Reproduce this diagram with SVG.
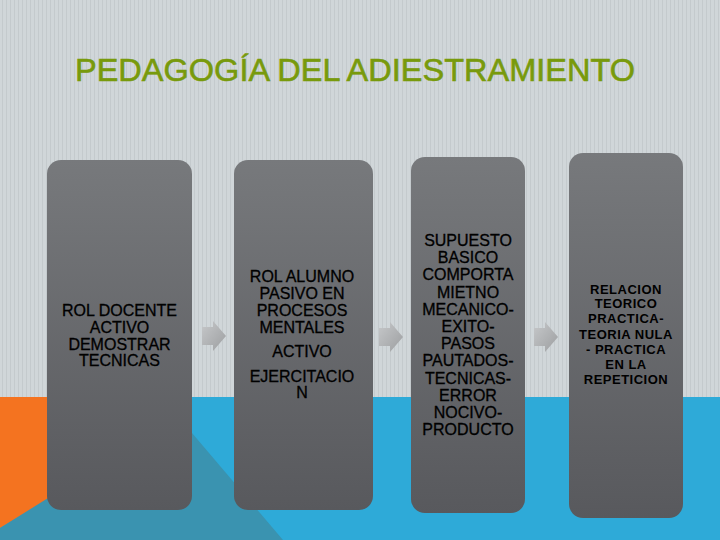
<svg xmlns="http://www.w3.org/2000/svg" width="720" height="540" viewBox="0 0 720 540">
<defs>
<pattern id="stripes" width="4" height="10" patternUnits="userSpaceOnUse">
<rect width="4" height="10" fill="#d0d6d9"/>
<rect x="2" width="1" height="10" fill="#c4cacd"/>
</pattern>
<linearGradient id="boxg" x1="0" y1="0" x2="0" y2="1">
<stop offset="0" stop-color="#77797c"/>
<stop offset="1" stop-color="#58595d"/>
</linearGradient>
<linearGradient id="arrg" x1="0" y1="0" x2="1" y2="1">
<stop offset="0" stop-color="#c6c8ca"/>
<stop offset="1" stop-color="#9c9ea0"/>
</linearGradient>
<path id="arrow" d="M0,6 H11 V0 L24,15 L11,30 V24 H0 Z" fill="url(#arrg)"/>
</defs>
<style>
.box{fill:url(#boxg);}
.t{font-family:"Liberation Sans",Arial,sans-serif;font-size:16px;fill:#000;stroke:#000;stroke-width:0.3px;text-anchor:middle;}
.tb{font-family:"Liberation Sans",Arial,sans-serif;font-size:13px;font-weight:bold;letter-spacing:0.5px;fill:#000;text-anchor:middle;}
.title{font-family:"Liberation Sans",Arial,sans-serif;font-size:32px;fill:#789a0c;stroke:#789a0c;stroke-width:0.6px;}
</style>
<rect width="720" height="540" fill="url(#stripes)"/>
<rect x="0" y="397" width="720" height="143" fill="#2eaad8"/>
<polygon points="0,397 190,397 190,417 0,528" fill="#f47320"/>
<polygon points="0,528 178,417 192,433 283,540 0,540" fill="#3a93b0"/>
<text class="title" x="75" y="81" textLength="560" lengthAdjust="spacingAndGlyphs">PEDAGOGÍA DEL ADIESTRAMIENTO</text>
<g id="connectors">
<use href="#arrow" x="202" y="321"/>
<use href="#arrow" x="379" y="322"/>
<use href="#arrow" x="534" y="322"/>
</g>
<g id="node1">
<rect class="box" x="47" y="160" width="145" height="350" rx="14"/>
<text class="t"><tspan x="119.5" y="316">ROL DOCENTE</tspan><tspan x="119.5" y="333">ACTIVO</tspan><tspan x="119.5" y="350">DEMOSTRAR</tspan><tspan x="119.5" y="366">TECNICAS</tspan></text>
</g>
<g id="node2">
<rect class="box" x="234" y="160" width="139" height="350" rx="14"/>
<text class="t"><tspan x="302" y="282">ROL ALUMNO</tspan><tspan x="302" y="299">PASIVO EN</tspan><tspan x="302" y="316">PROCESOS</tspan><tspan x="302" y="333">MENTALES</tspan><tspan x="302" y="357">ACTIVO</tspan><tspan x="302" y="382">EJERCITACIO</tspan><tspan x="302" y="398">N</tspan></text>
</g>
<g id="node3">
<rect class="box" x="411" y="157" width="114" height="356" rx="14"/>
<text class="t"><tspan x="468" y="246">SUPUESTO</tspan><tspan x="468" y="263">BASICO</tspan><tspan x="468" y="280">COMPORTA</tspan><tspan x="468" y="298">MIETNO</tspan><tspan x="468" y="315">MECANICO-</tspan><tspan x="468" y="332">EXITO-</tspan><tspan x="468" y="349">PASOS</tspan><tspan x="468" y="366">PAUTADOS-</tspan><tspan x="468" y="384">TECNICAS-</tspan><tspan x="468" y="401">ERROR</tspan><tspan x="468" y="418">NOCIVO-</tspan><tspan x="468" y="435">PRODUCTO</tspan></text>
</g>
<g id="node4">
<rect class="box" x="569" y="153" width="114" height="365" rx="14"/>
<text class="tb"><tspan x="626" y="294">RELACION</tspan><tspan x="626" y="308">TEORICO</tspan><tspan x="626" y="323">PRACTICA-</tspan><tspan x="626" y="339">TEORIA NULA</tspan><tspan x="626" y="354">- PRACTICA</tspan><tspan x="626" y="369">EN LA</tspan><tspan x="626" y="384">REPETICION</tspan></text>
</g>
</svg>
